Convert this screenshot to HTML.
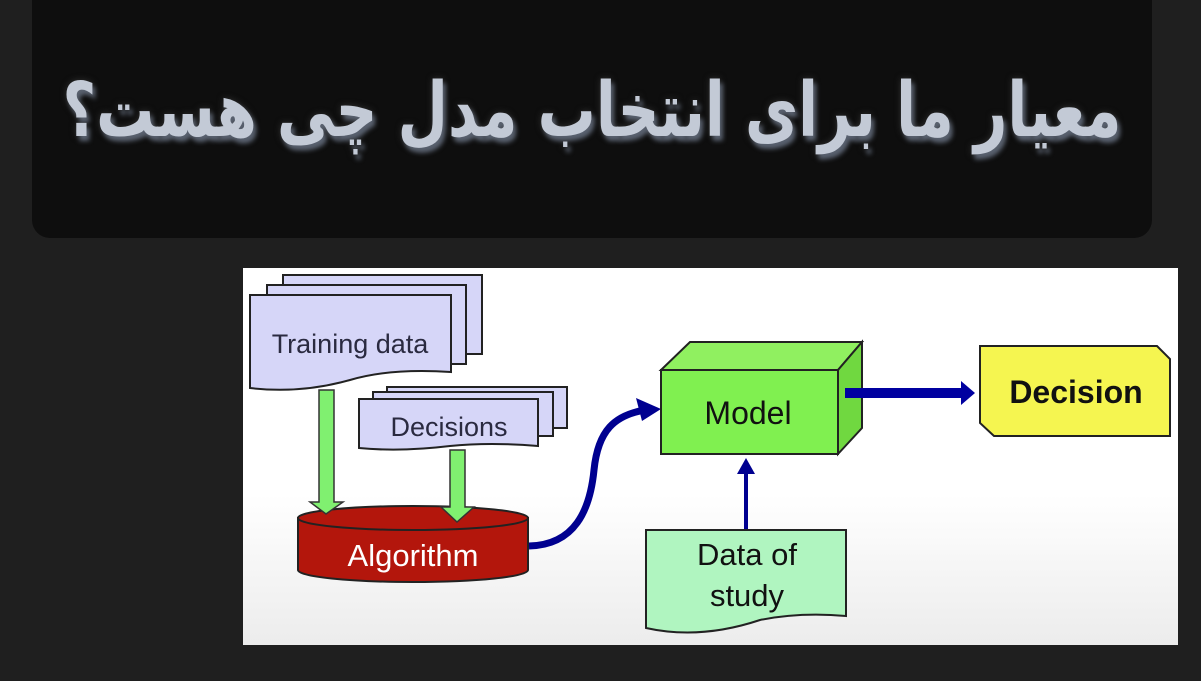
<!DOCTYPE html>
<html><head><meta charset="utf-8"><style>
html,body{margin:0;padding:0;background:#1f1f1f;width:1201px;height:681px;overflow:hidden}
.top{position:absolute;left:32px;top:-20px;width:1120px;height:258px;background:#0e0e0e;border-radius:18px}
.title{position:absolute;left:32px;top:55px;width:1120px;text-align:center;direction:rtl;font-family:"DejaVu Sans","Noto Sans CJK SC",sans-serif;font-weight:bold;font-size:58px;line-height:110px;color:#c3cad6;text-shadow:3px 4px 4px #5a6270,0 0 6px #333;white-space:nowrap;transform:scaleY(1.3);transform-origin:50% 50%}
svg{position:absolute;left:0;top:0}
</style></head><body>
<div class="top"></div>
<div class="title">معیار ما برای انتخاب مدل چی هست؟</div>
<svg width="1201" height="681" font-family="Liberation Sans, Arial, sans-serif">
<defs><linearGradient id="bg" x1="0" y1="0" x2="0" y2="1"><stop offset="0.6" stop-color="#ffffff"/><stop offset="1" stop-color="#ececec"/></linearGradient></defs>
<rect x="243" y="268" width="935" height="377" fill="url(#bg)"/>
<g stroke="#222" stroke-width="2" fill="#d6d6f8">
<path d="M283 275 H482 V354 H283Z"/>
<path d="M267 285 H466 V364 H267Z"/>
<path d="M250 295 H451 V372 Q390 368 350 380 Q300 394 250 388Z"/>
<path d="M387 387 H567 V428 H387Z"/>
<path d="M373 392 H553 V436 H373Z"/>
<path d="M359 399 H538 V446 Q490 442 450 446 Q400 452 359 448Z"/>
</g>
<text x="350" y="353" font-size="27" text-anchor="middle" fill="#2a2a40">Training data</text>
<text x="449" y="436" font-size="27" text-anchor="middle" fill="#2a2a40">Decisions</text>
<path d="M298 518 V570 A115 12 0 0 0 528 570 V518Z" fill="#b3160c" stroke="#222" stroke-width="2"/>
<ellipse cx="413" cy="518" rx="115" ry="12" fill="#b3160c" stroke="#222" stroke-width="2"/>
<text x="413" y="566" font-size="31" text-anchor="middle" fill="#fff">Algorithm</text>
<g fill="#80f070" stroke="#333" stroke-width="1.5">
<path d="M319 390 H334 V502 H343 L326 514 L310 502 H319Z"/>
<path d="M450 450 H465 V507 H474 L457 522 L441 507 H450Z"/>
</g>
<path d="M529 546 C575 545 590 510 594 470 C598 430 615 415 645 410" fill="none" stroke="#000090" stroke-width="7"/>
<path d="M661 409 L636 398 L642 421Z" fill="#000090"/>
<g stroke="#222" stroke-width="2" fill="#80f050">
<path d="M661 370 L690 342 H862 L838 370Z" fill="#90f060"/>
<path d="M838 370 L862 342 V428 L838 454Z" fill="#70d840"/>
<rect x="661" y="370" width="177" height="84"/>
</g>
<text x="748" y="424" font-size="32" text-anchor="middle" fill="#111">Model</text>
<rect x="845" y="388" width="118" height="10" fill="#0000a0"/>
<path d="M961 381 L975 393 L961 405Z" fill="#0000a0"/>
<path d="M980 346 H1157 L1170 359 V436 H994 L980 423Z" fill="#f5f550" stroke="#222" stroke-width="2"/>
<text x="1076" y="403" font-size="32" font-weight="bold" text-anchor="middle" fill="#111">Decision</text>
<line x1="746" y1="530" x2="746" y2="470" stroke="#000090" stroke-width="4"/>
<path d="M737 474 L746 458 L755 474Z" fill="#000090"/>
<path d="M646 530 H846 V616 Q800 612 760 620 Q700 640 646 628Z" fill="#b0f5c0" stroke="#222" stroke-width="2"/>
<text x="747" y="565" font-size="31" text-anchor="middle" fill="#111">Data of</text>
<text x="747" y="606" font-size="31" text-anchor="middle" fill="#111">study</text>
</svg>
</body></html>
